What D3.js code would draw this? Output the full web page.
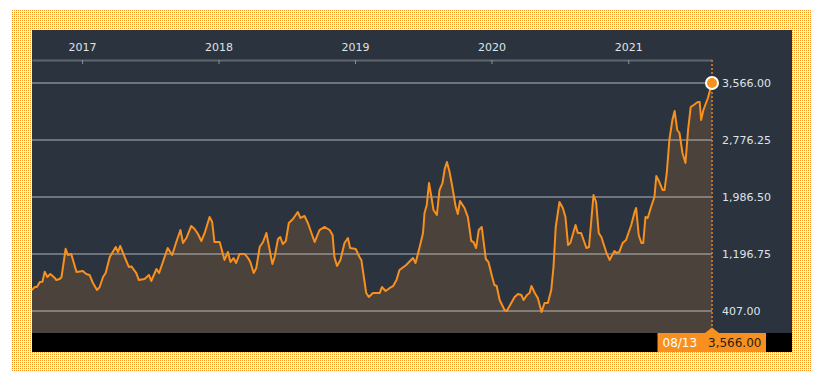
<!DOCTYPE html>
<html>
<head>
<meta charset="utf-8">
<script src="https://cdn.jsdelivr.net/npm/d3@7"></script>
<style>
  html, body { margin: 0; padding: 0; background: #ffffff; }
  svg { display: block; font-family: "DejaVu Sans", Verdana, sans-serif; }
</style>
</head>
<body>
<svg id="chart" width="826" height="383"></svg>
<script>
// ---- data ----
const dates = [
  "2016-08-20","2016-08-27","2016-09-02","2016-09-10","2016-09-17","2016-09-23","2016-09-30","2016-10-08",
  "2016-10-20","2016-10-24","2016-11-02","2016-11-07","2016-11-18","2016-11-24","2016-12-03","2016-12-17",
  "2017-01-03","2017-01-12","2017-01-21","2017-01-30","2017-02-10","2017-02-17","2017-02-26","2017-03-05",
  "2017-03-16","2017-04-01","2017-04-07","2017-04-13","2017-04-25","2017-05-06","2017-05-13","2017-05-26",
  "2017-06-02","2017-06-17","2017-06-29","2017-07-05","2017-07-19","2017-07-26","2017-08-18","2017-08-30",
  "2017-09-10","2017-09-21","2017-09-28","2017-10-07","2017-10-20","2017-10-29","2017-11-07","2017-11-16",
  "2017-11-25","2017-12-08","2017-12-15","2017-12-21","2018-01-04","2018-01-17","2018-01-26","2018-02-02",
  "2018-02-10","2018-02-17","2018-02-26","2018-03-12","2018-03-21","2018-03-27","2018-04-05","2018-04-12",
  "2018-04-21","2018-04-30","2018-05-09","2018-05-25","2018-05-31","2018-06-09","2018-06-15","2018-06-22",
  "2018-06-30","2018-07-08","2018-07-19","2018-08-01","2018-08-08","2018-08-19","2018-08-28","2018-09-15",
  "2018-09-28","2018-10-12","2018-10-25","2018-11-02","2018-11-07","2018-11-14","2018-11-23","2018-12-04",
  "2018-12-13","2018-12-19","2019-01-03","2019-01-13","2019-01-18","2019-01-31","2019-02-07","2019-02-18",
  "2019-02-27","2019-03-08","2019-03-14","2019-03-24","2019-04-04","2019-04-13","2019-04-22","2019-04-30",
  "2019-05-18","2019-06-05","2019-06-12","2019-06-23","2019-07-02","2019-07-06","2019-07-12","2019-07-18",
  "2019-07-24","2019-07-30","2019-08-08","2019-08-15","2019-08-23","2019-08-29","2019-09-04","2019-09-11",
  "2019-09-18","2019-09-27","2019-10-03","2019-10-09","2019-10-21","2019-10-30","2019-11-08","2019-11-14",
  "2019-11-21","2019-11-28","2019-12-06","2019-12-17","2019-12-24","2020-01-03","2020-01-09","2020-01-15",
  "2020-01-23","2020-02-05","2020-02-11","2020-02-23","2020-03-03","2020-03-12","2020-03-21","2020-03-27",
  "2020-04-05","2020-04-12","2020-04-17","2020-04-26","2020-05-04","2020-05-14","2020-05-22","2020-05-31",
  "2020-06-09","2020-06-15","2020-06-21","2020-07-01","2020-07-10","2020-07-17","2020-07-24","2020-07-30",
  "2020-08-13","2020-08-19","2020-08-28","2020-09-11","2020-09-18","2020-09-30","2020-10-07","2020-10-14",
  "2020-10-21","2020-11-03","2020-11-12","2020-11-25","2020-12-01","2020-12-08","2020-12-17","2020-12-26",
  "2021-01-09","2021-01-18","2021-01-22","2021-01-29","2021-02-05","2021-02-10","2021-02-16","2021-02-22",
  "2021-03-03","2021-03-12","2021-03-17","2021-03-24","2021-04-03","2021-04-08","2021-04-14","2021-04-21",
  "2021-04-29","2021-05-05","2021-05-12","2021-05-18","2021-05-26","2021-06-03","2021-06-10","2021-06-17",
  "2021-06-25","2021-07-06","2021-07-11","2021-07-15","2021-07-21","2021-08-02","2021-08-13"
];
const values = [
  698, 739, 739, 809, 813, 952, 878, 920,
  864, 836, 850, 878, 1270, 1183, 1197, 947,
  961, 920, 906, 795, 698, 739, 878, 933,
  1155, 1294, 1224, 1308, 1155, 1017, 1024, 933,
  836, 850, 906, 823, 989, 933, 1280, 1183,
  1363, 1529, 1349, 1418, 1585, 1543, 1474, 1377,
  1488, 1709, 1640, 1363, 1363, 1114, 1224, 1086,
  1141, 1072, 1197, 1197, 1141, 1086, 933, 1003,
  1294, 1363, 1488, 1058, 1155, 1404, 1432, 1335,
  1377, 1626, 1682, 1779, 1696, 1723, 1626, 1363,
  1529, 1571, 1529, 1460, 1155, 1030, 1114, 1349,
  1418, 1280, 1266, 1155, 1114, 656, 601, 656,
  656, 656, 739, 684, 726, 753, 836, 975,
  1044, 1141, 1072, 1294, 1488, 1765, 1876, 2180,
  2000, 1806, 1737, 2083, 2180, 2374, 2471, 2333,
  2139, 1862, 1751, 1931, 1834, 1709, 1377, 1363,
  1280, 1529, 1571, 1127, 1086, 878, 767, 753,
  559, 421, 407, 518, 601, 642, 629, 559,
  629, 656, 753, 656, 587, 393, 518, 518,
  698, 1017, 1571, 1917, 1834, 1709, 1321, 1349,
  1598, 1488, 1488, 1280, 1294, 2014, 1917, 1488,
  1432, 1224, 1114, 1238, 1210, 1224, 1349, 1391,
  1598, 1779, 1834, 1460, 1349, 1349, 1709, 1696,
  1848, 1986, 2277, 2208, 2083, 2083, 2319, 2776,
  3053, 3178, 2915, 2873, 2596, 2457, 2915, 3233,
  3261, 3303, 3303, 3053, 3192, 3358, 3566
];
const yearTickDates = ["2017-01-01","2018-01-01","2019-01-01","2020-01-01","2021-01-01"];
const yearTickLabels = ["2017","2018","2019","2020","2021"];
const valueTicks = [407, 1196.75, 1986.5, 2776.25, 3566];
const lastDateLabel = "08/13";

// ---- layout ----
const parse = d3.timeParse("%Y-%m-%d");
const data = dates.map((d, i) => ({ date: parse(d), value: values[i] }));

const svg = d3.select("#chart");
const frame = { x: 12, y: 10, w: 799, h: 361 };
const panel = { x: 32, y: 30, w: 760, h: 322 };
const plotLeft = 32, plotRight = 712, plotTop = 60, plotBottom = 333;

const x = d3.scaleTime()
  .domain(d3.extent(data, d => d.date))
  .range([plotLeft, plotRight]);
const y = d3.scaleLinear()
  .domain([407, 3566])
  .range([311, 83]);

// dotted orange frame
const defs = svg.append("defs");
const pat = defs.append("pattern")
  .attr("id", "dots").attr("patternUnits", "userSpaceOnUse")
  .attr("width", 2).attr("height", 2);
pat.append("rect").attr("width", 2).attr("height", 2).attr("fill", "#ffffff");
pat.append("rect").attr("width", 1).attr("height", 1).attr("fill", "#f7931e");

svg.append("rect")
  .attr("x", frame.x).attr("y", frame.y).attr("width", frame.w).attr("height", frame.h)
  .attr("fill", "url(#dots)").attr("shape-rendering", "crispEdges");

// dark panel
svg.append("rect")
  .attr("x", panel.x).attr("y", panel.y).attr("width", panel.w).attr("height", panel.h)
  .attr("fill", "#2b333e");

// area
const area = d3.area()
  .x(d => x(d.date)).y0(plotBottom).y1(d => y(d.value));
svg.append("path").datum(data)
  .attr("d", area).attr("fill", "#4a423b");

// black strip
svg.append("rect")
  .attr("x", panel.x).attr("y", plotBottom).attr("width", panel.w).attr("height", panel.y + panel.h - plotBottom)
  .attr("fill", "#000000");

// gridlines
svg.append("g").selectAll("line").data(valueTicks).join("line")
  .attr("x1", plotLeft).attr("x2", plotRight)
  .attr("y1", d => Math.round(y(d)) + 0.0).attr("y2", d => Math.round(y(d)) + 0.0)
  .attr("stroke", "rgba(255,255,255,0.32)").attr("stroke-width", 2);

// top time axis
const xAxis = d3.axisBottom(x)
  .tickValues(yearTickDates.map(parse))
  .tickFormat((d, i) => yearTickLabels[i])
  .tickSize(4).tickSizeOuter(0);
const gx = svg.append("g").attr("transform", `translate(0,${plotTop})`).call(xAxis);
gx.select(".domain").attr("stroke", "#60666d").attr("stroke-width", 2);
gx.selectAll(".tick line").attr("stroke", "#8a9098").attr("stroke-width", 1);
gx.selectAll(".tick text")
  .attr("y", -9).attr("dy", 0)
  .attr("fill", "#dde3ea").attr("font-size", 11)
  .attr("font-family", "DejaVu Sans, Verdana, sans-serif");

// right value axis
const yAxis = d3.axisRight(y)
  .tickValues(valueTicks)
  .tickFormat(d3.format(",.2f"))
  .tickSize(0).tickPadding(10);
const gy = svg.append("g").attr("transform", `translate(${plotRight},0)`).call(yAxis);
gy.select(".domain").remove();
gy.selectAll(".tick text")
  .attr("fill", "#dde3ea").attr("font-size", 11)
  .attr("font-family", "DejaVu Sans, Verdana, sans-serif");

// vertical dotted marker line
const last = data[data.length - 1];
svg.append("line")
  .attr("x1", x(last.date)).attr("x2", x(last.date))
  .attr("y1", plotTop).attr("y2", plotBottom)
  .attr("stroke", "#b8702e").attr("stroke-width", 2).attr("stroke-dasharray", "2,2");

// price line
const line = d3.line().x(d => x(d.date)).y(d => y(d.value));
svg.append("path").datum(data)
  .attr("d", line).attr("fill", "none")
  .attr("stroke", "#f7901e").attr("stroke-width", 2)
  .attr("stroke-linejoin", "round");

// last-point circle
svg.append("circle")
  .attr("cx", x(last.date)).attr("cy", y(last.value)).attr("r", 6)
  .attr("fill", "#f7901e").attr("stroke", "#ffffff").attr("stroke-width", 2);

// bottom label box
const lx = x(last.date);
const box = svg.append("g");
box.append("rect")
  .attr("x", lx - 54.5).attr("y", plotBottom).attr("width", 108.5).attr("height", 19)
  .attr("fill", "#f7901e");
box.append("path")
  .attr("d", `M${lx - 7},${plotBottom} L${lx},${plotBottom - 5.5} L${lx + 7},${plotBottom} Z`)
  .attr("fill", "#f7901e");
box.append("text")
  .attr("x", lx - 49.5).attr("y", plotBottom + 14)
  .attr("fill", "#ffffff").attr("font-size", 12)
  .text(lastDateLabel);
box.append("text")
  .attr("x", lx - 4).attr("y", plotBottom + 14)
  .attr("fill", "#2a2018").attr("font-size", 12)
  .text(d3.format(",.2f")(last.value));
</script>
</body>
</html>
